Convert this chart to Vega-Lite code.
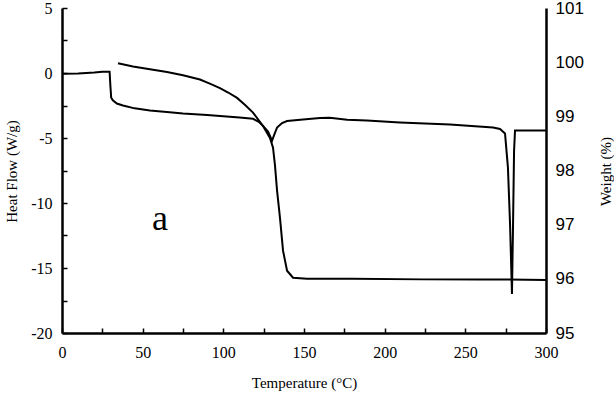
{
  "$schema": "https://vega.github.io/schema/vega-lite/v6.json",
  "width": 484,
  "height": 325,
  "autosize": "none",
  "padding": {"left": 62, "top": 8, "right": 68, "bottom": 63},
  "background": "white",
  "config": {
    "view": {"stroke": null},
    "axis": {"domainColor": "black", "labelColor": "black", "titleColor": "black", "ticks": false,
             "grid": true, "gridColor": "black", "gridWidth": 1.5, "gridOpacity": 1, "gridCap": "butt"}
  },
  "datasets": {
    "hf": [
      {"T": 0, "HF": -0.05}, {"T": 10, "HF": -0.03}, {"T": 20, "HF": 0.03}, {"T": 25, "HF": 0.1},
      {"T": 29.5, "HF": 0.1}, {"T": 30, "HF": -1.0}, {"T": 30.5, "HF": -1.9}, {"T": 31.5, "HF": -2.1},
      {"T": 34, "HF": -2.35}, {"T": 37.8, "HF": -2.5}, {"T": 45, "HF": -2.72}, {"T": 54.5, "HF": -2.88},
      {"T": 65, "HF": -3.0}, {"T": 75, "HF": -3.11}, {"T": 90, "HF": -3.23}, {"T": 102, "HF": -3.34},
      {"T": 110, "HF": -3.42}, {"T": 118.4, "HF": -3.52}, {"T": 122, "HF": -3.75}, {"T": 124.6, "HF": -4.07},
      {"T": 127.7, "HF": -4.5}, {"T": 130.2, "HF": -5.2}, {"T": 132, "HF": -4.6}, {"T": 133.3, "HF": -4.2},
      {"T": 136.4, "HF": -3.85}, {"T": 139.5, "HF": -3.7}, {"T": 149.4, "HF": -3.57}, {"T": 159.9, "HF": -3.47},
      {"T": 166, "HF": -3.45}, {"T": 176.7, "HF": -3.6}, {"T": 189, "HF": -3.65}, {"T": 209.5, "HF": -3.8},
      {"T": 240.5, "HF": -3.96}, {"T": 267.2, "HF": -4.2}, {"T": 271.5, "HF": -4.3}, {"T": 274.6, "HF": -4.65},
      {"T": 276.4, "HF": -7.26}, {"T": 277.7, "HF": -11.56}, {"T": 278.9, "HF": -17.0}, {"T": 279.5, "HF": -12.3},
      {"T": 280.2, "HF": -6.0}, {"T": 280.8, "HF": -4.42}, {"T": 290, "HF": -4.42}, {"T": 300, "HF": -4.42}
    ],
    "wt": [
      {"T": 34.7, "W": 99.98}, {"T": 44, "W": 99.92}, {"T": 54.5, "W": 99.87}, {"T": 65.1, "W": 99.82},
      {"T": 75, "W": 99.76}, {"T": 85.5, "W": 99.68}, {"T": 92, "W": 99.6}, {"T": 97.9, "W": 99.52},
      {"T": 103, "W": 99.44}, {"T": 108.5, "W": 99.34}, {"T": 113.5, "W": 99.21}, {"T": 118.4, "W": 99.07},
      {"T": 124.6, "W": 98.82}, {"T": 128.9, "W": 98.6}, {"T": 130.8, "W": 98.42}, {"T": 132, "W": 98.1},
      {"T": 133.3, "W": 97.63}, {"T": 135.1, "W": 97.13}, {"T": 137, "W": 96.52}, {"T": 139.5, "W": 96.15},
      {"T": 143.2, "W": 96.02}, {"T": 151.9, "W": 96.0}, {"T": 180, "W": 96.0}, {"T": 223.8, "W": 95.99},
      {"T": 260, "W": 95.99}, {"T": 300, "W": 95.98}
    ],
    "lab": [{"T": 60.7, "HF": -11.2, "text": "a"}]
  },
  "layer": [
    {
      "data": {"name": "hf"},
      "mark": {"type": "line", "color": "black", "strokeWidth": 2},
      "encoding": {
        "x": {
          "field": "T", "type": "quantitative",
          "scale": {"domain": [0, 300], "nice": false, "zero": false},
          "axis": {
            "title": "Temperature (°C)", "orient": "bottom",
            "values": [0, 25, 50, 75, 100, 125, 150, 175, 200, 225, 250, 275, 300],
            "labelExpr": "datum.value % 50 == 0 ? '' + datum.value : ''",
            "domainWidth": 2.5, "gridDash": [0, 320, 5, 2000],
            "labelFont": "Liberation Serif", "labelFontSize": 16,
            "labelPadding": 11, "labelFlush": false, "labelOverlap": false,
            "titleFont": "Liberation Serif", "titleFontSize": 15, "titleFontWeight": "normal",
            "titlePadding": 15
          }
        },
        "y": {
          "field": "HF", "type": "quantitative",
          "scale": {"domain": [-20, 5], "nice": false, "zero": false},
          "axis": {
            "orient": "left", "title": "Heat Flow (W/g)",
            "values": [-20, -17.5, -15, -12.5, -10, -7.5, -5, -2.5, 0, 2.5, 5],
            "labelExpr": "datum.value % 5 == 0 ? '' + datum.value : ''",
            "domainWidth": 2.5, "gridDash": [5, 2000],
            "labelFont": "Liberation Serif", "labelFontSize": 16,
            "labelPadding": 10, "labelFlush": false, "labelOverlap": false,
            "titleFont": "Liberation Serif", "titleFontSize": 15, "titleFontWeight": "normal",
            "titleAngle": 270, "titleX": -51, "titleY": 163,
            "titleAlign": "center", "titleBaseline": "middle"
          }
        }
      }
    },
    {
      "data": {"name": "lab"},
      "mark": {"type": "text", "font": "Liberation Serif", "fontSize": 36, "color": "black"},
      "encoding": {
        "x": {"field": "T", "type": "quantitative", "axis": null},
        "y": {"field": "HF", "type": "quantitative", "scale": {"domain": [-20, 5], "nice": false, "zero": false}, "axis": null},
        "text": {"field": "text"}
      }
    },
    {
      "data": {"name": "wt"},
      "mark": {"type": "line", "color": "black", "strokeWidth": 2},
      "encoding": {
        "x": {"field": "T", "type": "quantitative", "axis": null},
        "y": {
          "field": "W", "type": "quantitative",
          "scale": {"domain": [95, 101], "nice": false, "zero": false},
          "axis": {
            "orient": "right", "title": "Weight (%)",
            "values": [95, 95.5, 96, 96.5, 97, 97.5, 98, 98.5, 99, 99.5, 100, 100.5, 101],
            "labelExpr": "datum.value % 1 == 0 ? '' + datum.value : ''",
            "domainWidth": 2.5, "gridDash": [0, 479, 5, 2000],
            "labelFont": "Liberation Sans", "labelFontSize": 17,
            "labelPadding": 9, "labelFlush": false, "labelOverlap": false,
            "titleFont": "Liberation Serif", "titleFontSize": 15, "titleFontWeight": "normal",
            "titleAngle": 270, "titleX": 59, "titleY": 163,
            "titleAlign": "center", "titleBaseline": "middle"
          }
        }
      }
    }
  ],
  "resolve": {"scale": {"y": "independent"}, "axis": {"x": "independent"}}
}
